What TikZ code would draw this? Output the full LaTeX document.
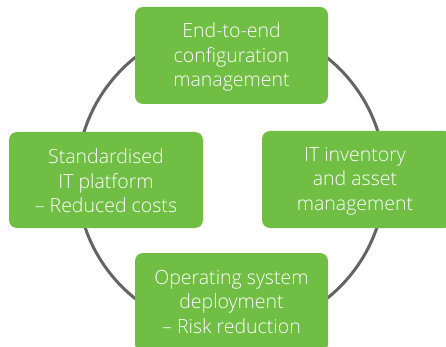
\documentclass[tikz,border=0pt]{standalone}
\usepackage{fontspec}
\setmainfont{Open Sans}[UprightFont=* Light]
\definecolor{boxgreen}{RGB}{113,190,69}
\definecolor{ringgray}{RGB}{100,100,100}
\begin{document}
\begin{tikzpicture}[x=1pt,y=-1pt,
  gbox/.style={fill=boxgreen,draw=none,rounded corners=8pt,text=white,align=center,
    font=\fontsize{19.5}{24.5}\selectfont},
]
\useasboundingbox (0,0) rectangle (446,347);
\draw[ringgray,line width=3pt] (231,178) circle (154);
\path[gbox] (135,7) rectangle (328,104);
\path[gbox] (9,132) rectangle (203,228);
\path[gbox] (262,131) rectangle (452,228);
\path[gbox] (135,253) rectangle (328,352);
\node[gbox,fill=none] (top) at (231.5,57) {End-to-end\\configuration\\management};
\node[gbox,fill=none] (left) at (106,181) {Standardised\\IT platform\\– Reduced costs};
\node[gbox,fill=none] (right) at (355,181) {IT inventory\\and asset\\management};
\node[gbox,fill=none] (bottom) at (231.5,302) {Operating system\\deployment\\– Risk reduction};
\end{tikzpicture}
\end{document}
